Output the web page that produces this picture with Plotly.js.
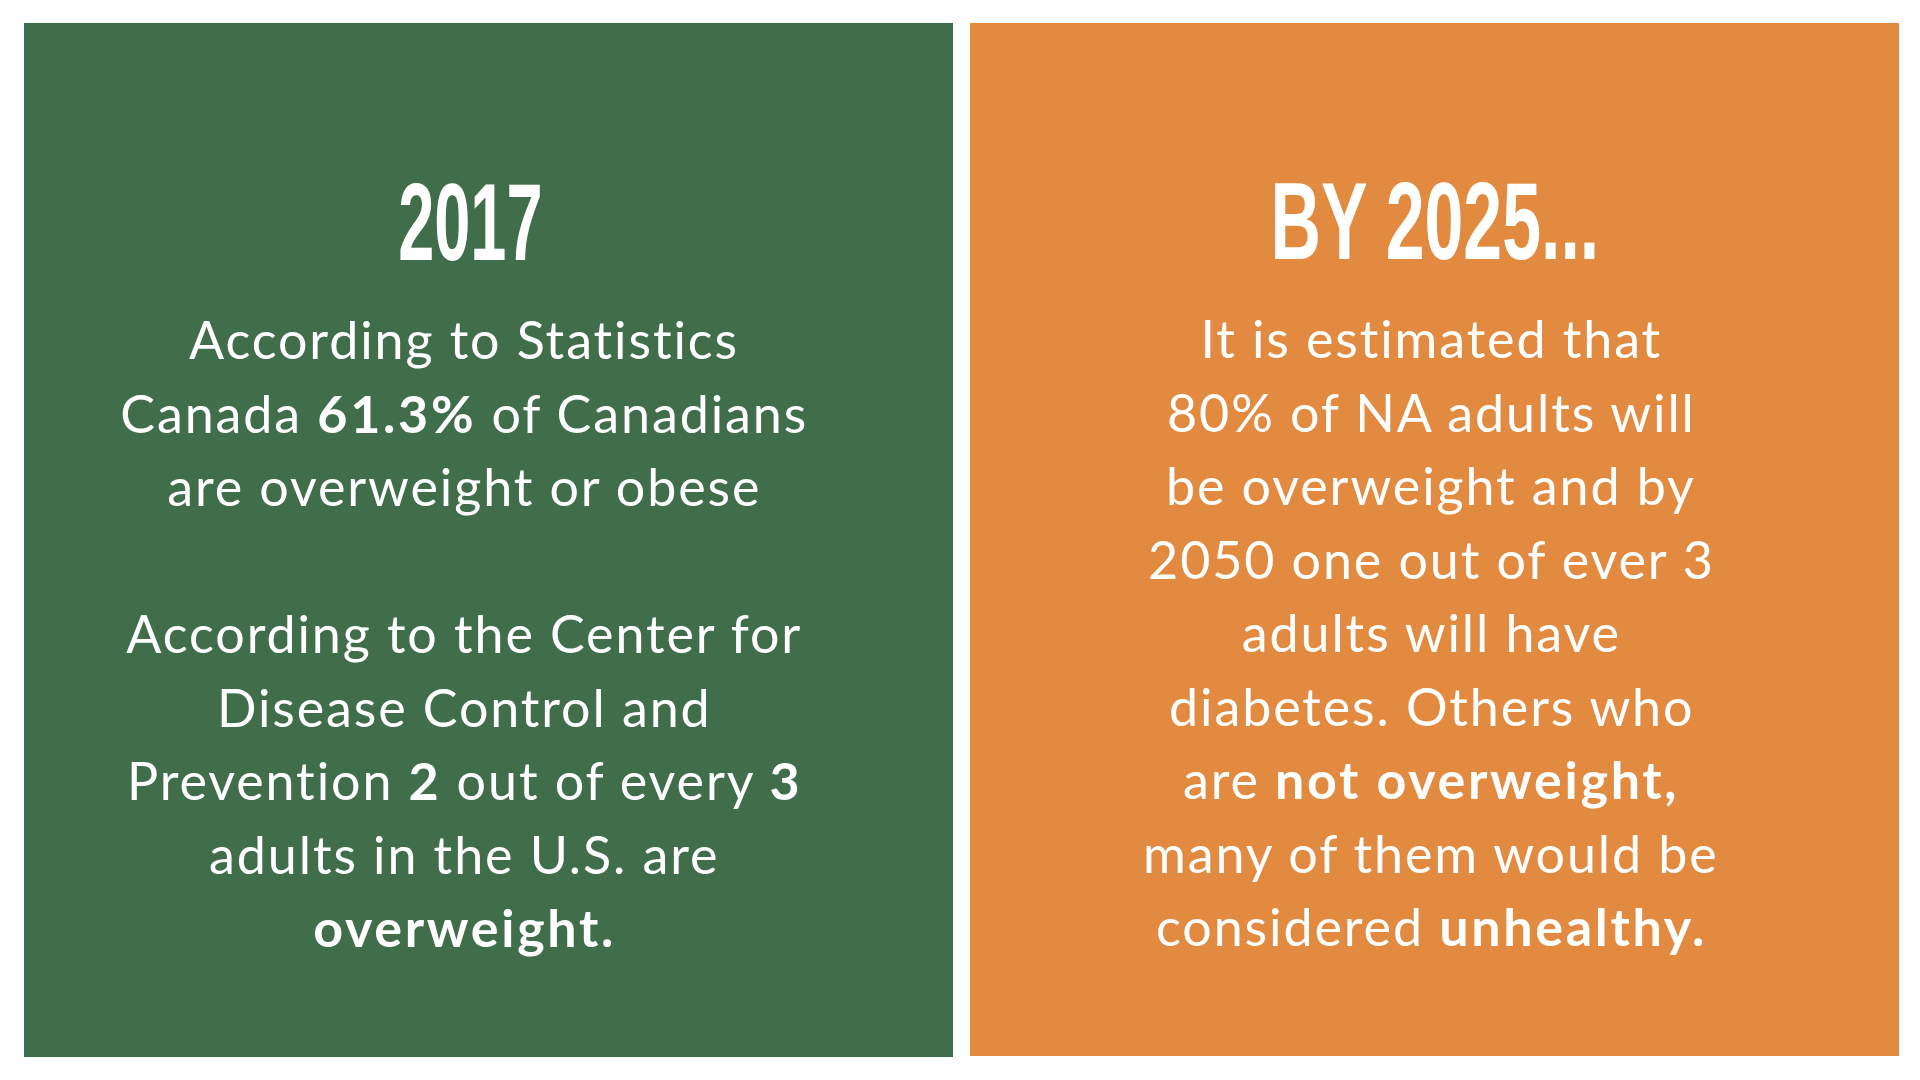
<!DOCTYPE html>
<html>
<head>
<meta charset="utf-8">
<script src="https://cdn.plot.ly/plotly-3.0.1.min.js"></script>
<style>
  html, body { margin: 0; padding: 0; background: #ffffff; }
  #chart { width: 1920px; height: 1080px; }
  .annotation text { letter-spacing: 1.9px; }
  .annotation text tspan[style*="bold"] { letter-spacing: 2.7px; }
  .annotation[data-index="0"] text, .annotation[data-index="0"] text tspan { letter-spacing: 0; }
  .annotation[data-index="1"] text, .annotation[data-index="1"] text tspan { letter-spacing: 0; }
  .annotation[data-index="0"] text { transform-box: fill-box; transform-origin: center; transform: scaleX(0.59); }
  .annotation[data-index="1"] text { transform-box: fill-box; transform-origin: center; transform: scaleX(0.635); }
</style>
</head>
<body>
<div id="chart"></div>
<script>
// Panel headings
const headings = ["2017", "BY 2025..."];

// Panel body lines ("" = blank line)
const leftLines = [
  "According to Statistics",
  "Canada <b>61.3%</b> of Canadians",
  "are overweight or obese",
  "",
  "According to the Center for",
  "Disease Control and",
  "Prevention <b>2</b> out of every <b>3</b>",
  "adults in the U.S. are",
  "<b>overweight.</b>"
];
const rightLines = [
  "It is estimated that",
  "80% of NA adults will",
  "be overweight and by",
  "2050 one out of ever 3",
  "adults will have",
  "diabetes. Others who",
  "are <b>not overweight,</b>",
  "many of them would be",
  "considered <b>unhealthy.</b>"
];

// Panel colours
const panelColors = ["#406D4A", "#E28B40"];

const headFont = { family: "Liberation Sans, Arial, sans-serif", size: 110, color: "#ffffff", weight: 700 };
const bodyFont = { family: "Lato, Open Sans, sans-serif", size: 52, color: "#ffffff" };

const annotations = [];
annotations.push({ x: 470, y: 221, xref: "x", yref: "y", text: "<b>" + headings[0] + "</b>", showarrow: false, xanchor: "center", yanchor: "middle", font: headFont });
annotations.push({ x: 1435, y: 220, xref: "x", yref: "y", text: "<b>" + headings[1] + "</b>", showarrow: false, xanchor: "center", yanchor: "middle", font: headFont });

const firstLine = 339, lineGap = 73.5;
leftLines.forEach((t, i) => {
  if (!t) return;
  annotations.push({ x: 464, y: firstLine + i * lineGap, xref: "x", yref: "y", text: t, showarrow: false, xanchor: "center", yanchor: "middle", font: bodyFont });
});
rightLines.forEach((t, i) => {
  if (!t) return;
  annotations.push({ x: 1431, y: firstLine - 1 + i * lineGap, xref: "x", yref: "y", text: t, showarrow: false, xanchor: "center", yanchor: "middle", font: bodyFont });
});

const shapes = [
  { type: "rect", xref: "x", yref: "y", x0: 24, x1: 953, y0: 23, y1: 1057, fillcolor: panelColors[0], line: { width: 0 }, layer: "below" },
  { type: "rect", xref: "x", yref: "y", x0: 970, x1: 1899, y0: 23, y1: 1056, fillcolor: panelColors[1], line: { width: 0 }, layer: "below" }
];

const layout = {
  width: 1920, height: 1080,
  margin: { l: 0, r: 0, t: 0, b: 0, pad: 0 },
  paper_bgcolor: "#ffffff", plot_bgcolor: "#ffffff",
  xaxis: { range: [0, 1920], visible: false, fixedrange: true },
  yaxis: { range: [1080, 0], visible: false, fixedrange: true },
  showlegend: false,
  shapes: shapes,
  annotations: annotations
};

Plotly.newPlot("chart", [], layout, { staticPlot: true, displayModeBar: false });
</script>
</body>
</html>
